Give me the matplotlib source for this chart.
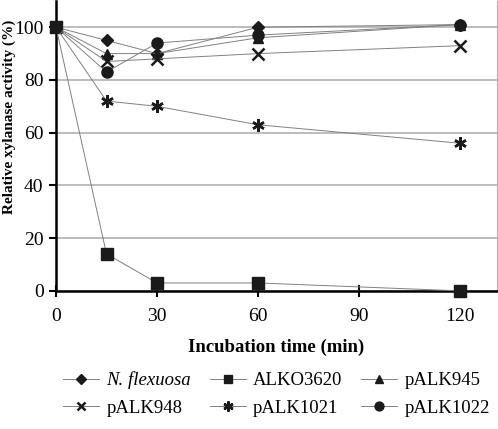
import matplotlib.pyplot as plt

plt.rcParams['font.family'] = ['Liberation Serif', 'DejaVu Serif']

# Incubation time (min)
time = [0, 15, 30, 60, 120]

# Relative xylanase activity (%)
n_flexuosa = [100, 95, 90, 100, 101]
alko3620 = [100, 14, 3, 3, 0]
palk945 = [100, 90, 90, 96, 101]
palk948 = [100, 87, 88, 90, 93]
palk1021 = [100, 72, 70, 63, 56]
palk1022 = [100, 83, 94, 97, 101]

fig = plt.figure(figsize=(4.98, 4.29), dpi=100)
ax = fig.add_axes([0.1125, 0.322, 0.8855, 0.676])

line_kw = dict(color='#808080', linewidth=0.7, markerfacecolor='#1a1a1a',
               markeredgecolor='#1a1a1a', clip_on=False, zorder=3)

ax.plot(time, n_flexuosa, marker='D', markersize=6, label='N. flexuosa', **line_kw)
ax.plot(time, alko3620, marker='s', markersize=8, label='ALKO3620', **line_kw)
ax.plot(time, palk945, marker='^', markersize=7, label='pALK945', **line_kw)
ax.plot(time, palk948, marker='x', markersize=8, markeredgewidth=1.8, label='pALK948', **line_kw)
ax.plot(time, palk1021, marker=(6, 2, 0), markersize=9, markeredgewidth=1.8, label='pALK1021', **line_kw)
ax.plot(time, palk1022, marker='o', markersize=8, label='pALK1022', **line_kw)

ax.set_xlim(0, 131)
ax.set_ylim(0, 110)
ax.set_xticks([0, 30, 60, 90, 120])
ax.set_yticks([0, 20, 40, 60, 80, 100])
ax.yaxis.grid(True, color='#b0b0b0', linewidth=1.2)
ax.set_axisbelow(True)

ax.spines['top'].set_visible(False)
ax.spines['right'].set_color('#b0b0b0')
ax.spines['left'].set_linewidth(1.8)
ax.spines['bottom'].set_linewidth(1.8)
ax.tick_params(axis='y', direction='out', length=5, width=1.5, labelsize=14, pad=4)
ax.tick_params(axis='x', direction='inout', length=8, width=1.5, labelsize=14, pad=8)

ax.set_xlabel('Incubation time (min)', fontsize=13.5, fontweight='bold', labelpad=10)
ax.set_ylabel('Relative xylanase activity (%)', fontsize=11, fontweight='bold')
ax.yaxis.set_label_coords(-0.091, 0.6)

# legend filled row by row like the original
h, l = ax.get_legend_handles_labels()
order = [0, 3, 1, 4, 2, 5]
leg = ax.legend([h[i] for i in order], [l[i] for i in order],
                loc='upper center', bbox_to_anchor=(0.5, -0.22), ncol=3, frameon=False,
                fontsize=13.5, handlelength=1.9, handletextpad=0.4, columnspacing=1.0,
                labelspacing=0.55, markerscale=0.8)
for t in leg.get_texts():
    if t.get_text() == 'N. flexuosa':
        t.set_style('italic')

plt.savefig('out.png', dpi=100)
